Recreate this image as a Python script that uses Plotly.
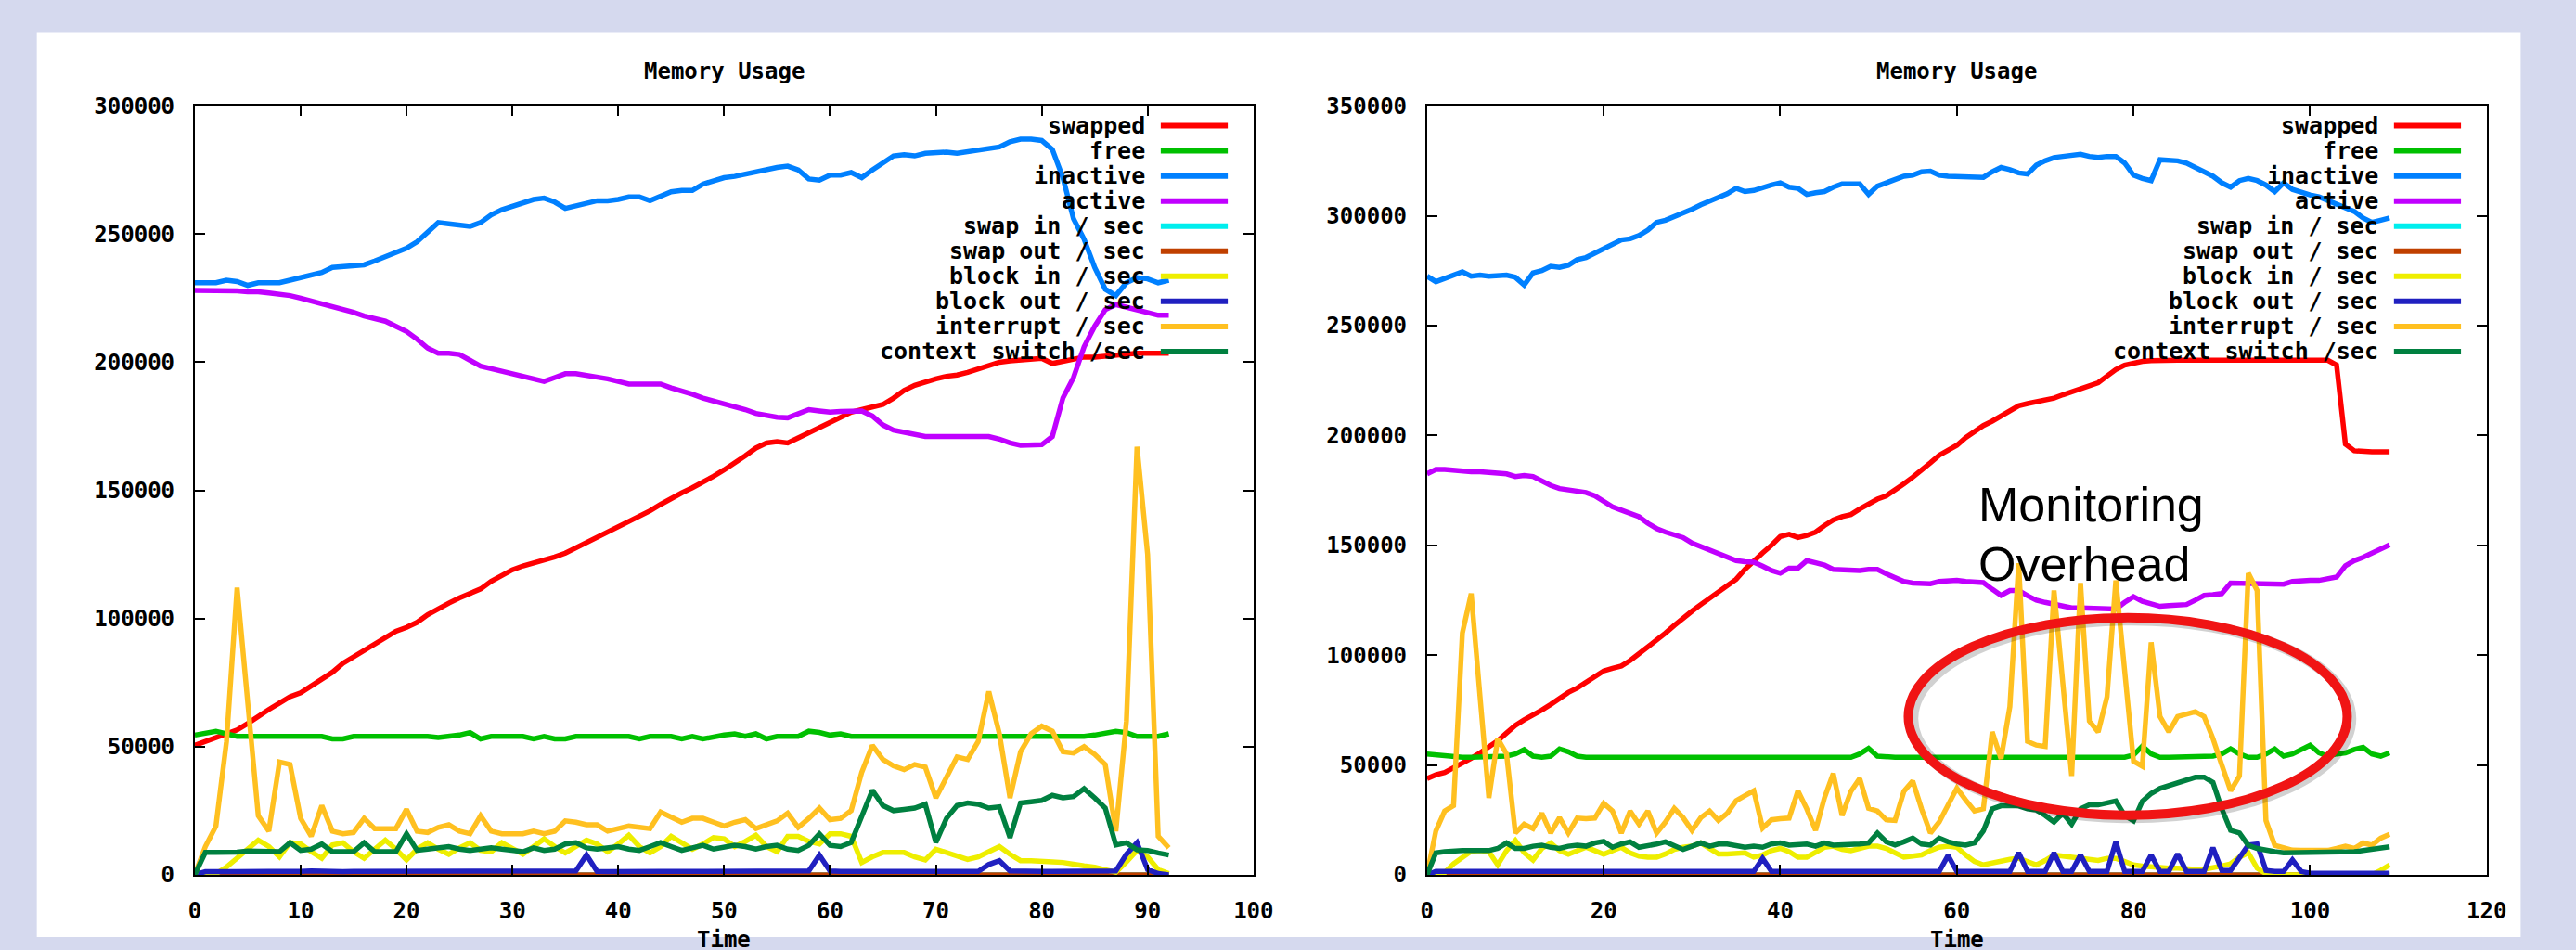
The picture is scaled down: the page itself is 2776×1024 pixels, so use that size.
import plotly.graph_objects as go

W, H = 2776, 1024

# ---------------- data ----------------
series_names = ["swapped", "free", "inactive", "active", "swap in / sec", "swap out / sec",
                "block in / sec", "block out / sec", "interrupt / sec", "context switch /sec"]
series_colors = ["#ff0000", "#00c000", "#0080ff", "#c000ff", "#00eeee", "#c04000",
                 "#eeee00", "#2020c0", "#ffc020", "#008040"]

left_time = list(range(93))
right_time = list(range(110))

left_x_ticks = [0, 10, 20, 30, 40, 50, 60, 70, 80, 90, 100]
left_y_ticks = [0, 50000, 100000, 150000, 200000, 250000, 300000]
right_x_ticks = [0, 20, 40, 60, 80, 100, 120]
right_y_ticks = [0, 50000, 100000, 150000, 200000, 250000, 300000, 350000]

L_swapped = [50500, 52000, 53000, 54500, 56500, 59000, 62000, 64500, 67000, 69500,
             71000, 73500, 76000, 79000, 82500, 85000, 87500, 90500, 93000, 95000,
             96500, 98500, 101500, 104000, 106000, 108000, 109500, 111500, 114500, 117000,
             119000, 120500, 121500, 122500, 124000, 125500, 127500, 130000, 132000, 133500,
             135500, 137500, 139500, 142000, 144500, 147000, 149000, 151000, 153000, 155500,
             158000, 160500, 163500, 166500, 168500, 169000, 168500, 170500, 172500, 174500,
             176500, 178500, 180500, 181500, 182500, 183500, 186000, 189000, 191000, 192500,
             193500, 194500, 195000, 196000, 197500, 199000, 200000, 200500, 201000, 201500,
             201500, 199500, 200500, 201500, 202000, 202000, 202500, 203000, 203000, 203500,
             203500, 203500, 203500]
L_free = [54500, 55500, 56000, 55000, 54000, 54000, 54000, 54000, 54000, 54000,
          54000, 54000, 54000, 53000, 53000, 54000, 54000, 54000, 54000, 54000,
          54000, 54000, 54000, 53500, 54000, 54500, 55500, 53000, 54000, 54000,
          54000, 54000, 53000, 54000, 53000, 53000, 54000, 54000, 54000, 54000,
          54000, 54000, 53000, 54000, 54000, 54000, 53000, 54000, 53000, 54000,
          54500, 55000, 54000, 55000, 53000, 54000, 54000, 54000, 56000, 55500,
          54500, 55000, 54000, 54000, 54000, 54000, 54000, 54000, 54000, 54000,
          54000, 54000, 54000, 54000, 54000, 54000, 54000, 54000, 54000, 54000,
          54000, 54000, 54000, 54000, 54000, 54500, 55500, 56000, 55500, 54000,
          54000, 54000, 55000]
L_inactive = [231000, 231000, 231000, 232000, 231500, 230000, 231000, 231000, 231000, 232000,
              233000, 234000, 235000, 237000, 237500, 238000, 238000, 239500, 241000, 242500,
              244500, 247000, 251000, 254500, 254000, 253500, 253000, 254500, 257500, 259500,
              261000, 262500, 263500, 264000, 262500, 260000, 261000, 262500, 263000, 263000,
              263500, 264500, 264500, 263000, 265000, 266500, 267000, 267000, 269500, 271000,
              272000, 272500, 273500, 274500, 275500, 276000, 276500, 275000, 271500, 271000,
              273000, 273000, 274000, 272000, 275000, 278000, 280500, 281000, 280500, 281500,
              282000, 282000, 281500, 282000, 282500, 283000, 284000, 286000, 287000, 287000,
              286500, 283000, 272000, 256000, 248000, 237000, 228500, 226000, 231000, 233000,
              232500, 231000, 232000]
L_active = [228000, 228000, 228000, 228000, 227800, 227500, 227500, 227000, 226500, 226000,
            225000, 224000, 223000, 221500, 220500, 219500, 218000, 217000, 216000, 214000,
            212000, 209000, 205500, 203500, 203500, 203000, 200500, 198500, 197500, 196500,
            195500, 194500, 193500, 192500, 194000, 195500, 195500, 195000, 194000, 193500,
            192500, 191500, 191500, 191500, 191500, 190000, 189000, 187500, 186000, 185000,
            183500, 182500, 181500, 180000, 179000, 178500, 178300, 180000, 181500, 181000,
            180500, 180800, 181000, 181000, 179000, 175500, 173500, 172500, 171500, 171000,
            171000, 171000, 171000, 171000, 171000, 171000, 170000, 168500, 167600, 167600,
            167800, 171000, 186000, 194000, 206000, 214000, 220500, 222500, 221500, 220500,
            219000, 218300, 218300]
L_swapin = [0, 0, 0, 0, 0, 0, 0, 0, 0, 0, 0, 0, 0, 0, 0, 0, 0, 0, 0, 0,
            0, 0, 0, 0, 0, 0, 0, 0, 0, 0, 0, 0, 0, 0, 0, 0, 0, 0, 0, 0,
            0, 0, 0, 0, 0, 0, 0, 0, 0, 0, 0, 0, 0, 0, 0, 0, 0, 0, 0, 0,
            0, 0, 0, 0, 0, 0, 0, 0, 0, 0, 0, 0, 0, 0, 0, 0, 0, 0, 0, 0,
            0, 0, 0, 0, 0, 0, 0, 0, 0, 0, 0, 0, 0]
L_swapout = [0, 0, 0, 0, 0, 0, 0, 0, 0, 0, 0, 0, 0, 0, 0, 0, 0, 0, 0, 0,
             0, 0, 0, 0, 0, 0, 0, 0, 0, 0, 0, 0, 0, 0, 0, 0, 0, 0, 0, 0,
             0, 0, 0, 0, 0, 0, 0, 0, 0, 0, 0, 0, 0, 0, 0, 0, 0, 0, 0, 0,
             0, 0, 0, 0, 0, 0, 0, 0, 0, 0, 0, 0, 0, 0, 0, 0, 0, 0, 0, 0,
             0, 0, 0, 0, 0, 0, 0, 0, 0, 0, 0, 0, 0]
L_blockin = [0, 0, 400, 3000, 6500, 9700, 13500, 11000, 7000, 12600,
             12000, 9000, 6400, 11600, 12500, 9000, 6400, 10000, 13500, 10000,
             5800, 10000, 12500, 10000, 8000, 10500, 12500, 9500, 9000, 12500,
             10000, 8000, 11000, 14000, 11000, 8500, 11000, 13500, 12000, 9000,
             12000, 15400, 11000, 8500, 11000, 15000, 12500, 10000, 12000, 14500,
             14000, 11000, 13000, 15400, 11000, 9000, 15000, 15000, 13000, 12000,
             16000, 16000, 15000, 4800, 7000, 8700, 8700, 8700, 7000, 5800,
             10000, 8500, 7500, 6000, 7000, 9000, 11000, 8000, 5500, 5500,
             5000, 5000, 4800, 4000, 3500, 3000, 2000, 1000, 5000, 9500,
             7000, 2000, 500]
L_blockout = [0, 1200, 1200, 1300, 1300, 1200, 1200, 1300, 1300, 1200,
              1300, 1500, 1300, 1300, 1200, 1300, 1300, 1500, 1300, 1200,
              1300, 1300, 1500, 1300, 1300, 1300, 1500, 1300, 1200, 1300,
              1300, 1300, 1300, 1300, 1300, 1300, 1500, 7700, 1300, 1200,
              1300, 1300, 1500, 1300, 1300, 1300, 1300, 1300, 1300, 1300,
              1300, 1300, 1300, 1300, 1300, 1300, 1300, 1300, 1500, 7700,
              1500, 1300, 1500, 1300, 1300, 1500, 1300, 1300, 1300, 1300,
              1300, 1300, 1300, 1300, 1300, 4000, 5500, 1500, 1300, 1300,
              1300, 1300, 1300, 1300, 1300, 1300, 1300, 1500, 8000, 12500,
              2000, 500, 0]
L_interrupt = [0, 11000, 19000, 52000, 112000, 68000, 23000, 17000, 44000, 43000,
               22000, 15000, 27000, 17000, 16000, 16500, 22000, 18000, 18000, 18000,
               25500, 17000, 16500, 18500, 19500, 17000, 16000, 23000, 17000, 16000,
               16000, 16000, 17000, 16000, 17000, 21000, 20500, 19500, 19500, 17000,
               18000, 19000, 18500, 18000, 24500, 22500, 20500, 22000, 22000, 20500,
               19000, 20500, 21500, 18000, 19500, 21000, 24000, 18500, 22000, 26000,
               21500, 22000, 25000, 40000, 50500, 45000, 42500, 41000, 43000, 42000,
               30000, 38000, 46000, 45000, 52000, 71500, 55000, 30000, 48000, 55000,
               58000, 56000, 48000, 47500, 50000, 47000, 43000, 17000, 60000, 167000,
               125000, 15000, 10500]
L_context = [0, 8700, 8700, 8700, 8800, 9300, 9300, 9000, 9000, 12500,
             9500, 10000, 12000, 9000, 9000, 9000, 12500, 9000, 9000, 9000,
             16000, 9500, 10000, 10500, 11000, 10000, 9500, 10000, 10500, 10000,
             9500, 9000, 10500, 9500, 10000, 12000, 12500, 10500, 10000, 10500,
             11000, 10000, 9500, 11000, 12600, 11000, 9500, 10500, 11500, 10000,
             10600, 11500, 11000, 10000, 11000, 11500, 10000, 9500, 11500, 16000,
             11500, 11000, 12600, 23000, 33000, 27000, 25000, 25500, 26000, 27500,
             12600, 22000, 27000, 28000, 27500, 26000, 26500, 14500, 28000, 28500,
             29000, 31000, 30000, 30500, 33600, 30000, 26000, 11600, 12500, 9700,
             9500, 8500, 7700]

R_swapped = [43800, 45500, 46500, 48500, 50600, 53000, 55500, 58000, 61000, 64500,
             68000, 70500, 72500, 75000, 77500, 80500, 83000, 85000, 87500, 90500,
             92800, 94000, 95000, 97500, 100500, 104000, 107000, 110000, 113500, 117000,
             120000, 123000, 126000, 129000, 131500, 134500, 139000, 143000, 146500, 150000,
             154000, 155000, 153500, 154500, 156000, 159000, 161500, 163000, 164000, 166500,
             169000, 171000, 172500, 175000, 178000, 181000, 184000, 187500, 191000, 193000,
             195500, 199000, 202000, 204500, 206500, 209000, 211500, 213500, 214500, 215200,
             216000, 217000, 218500, 220000, 221500, 222500, 224000, 227000, 230000, 232000,
             233000, 233700, 234000, 234200, 234200, 234200, 234200, 234200, 234200, 234200,
             234200, 234200, 234200, 234200, 234200, 234200, 234200, 234200, 234200, 234200,
             234200, 234200, 234200, 232000, 196000, 193000, 192500, 192500, 192500, 192500]
R_free = [55000, 54500, 54000, 54000, 53500, 53500, 53500, 53500, 53500, 54000,
          55000, 57000, 54000, 53500, 54000, 57300, 56000, 54000, 53500, 53500,
          53500, 53500, 53500, 53500, 54000, 53500, 53500, 53500, 53500, 53500,
          53500, 54000, 53500, 53500, 53500, 53500, 53500, 53500, 53500, 53500,
          54000, 53500, 53500, 53500, 53500, 54000, 53500, 53500, 53500, 55000,
          57500, 54000, 53500, 53500, 53500, 53500, 53500, 53500, 53500, 53500,
          54000, 53500, 53500, 53500, 53500, 54000, 53500, 53500, 53500, 53500,
          54000, 53500, 53500, 53500, 53500, 53500, 54000, 53500, 53500, 53500,
          54500, 58500, 55000, 53500, 53500, 53500, 54000, 54000, 54000, 54000,
          55000, 57300, 55000, 53500, 53500, 55000, 57300, 54000, 55000, 57000,
          59000, 55500, 54000, 55000, 55500, 57000, 58000, 55000, 54000, 55500]
R_inactive = [272500, 270000, 271500, 273000, 274500, 272500, 273000, 272500, 273000, 273000,
              272000, 268500, 274000, 275000, 277000, 276500, 277500, 280000, 281000, 283000,
              284500, 287000, 289000, 289500, 291000, 293500, 297000, 298000, 299500, 301000,
              303000, 305000, 306500, 308000, 310000, 312500, 311000, 311500, 313000, 314000,
              315000, 313000, 312500, 309700, 310500, 311000, 313000, 314500, 314500, 314500,
              309700, 313500, 315000, 316500, 318000, 318500, 320000, 320300, 318500, 318000,
              318000, 318000, 318000, 317500, 320000, 322000, 321000, 319500, 319000, 323000,
              325000, 326500, 327000, 327500, 328000, 327000, 326500, 327000, 327000, 324000,
              318500, 317000, 316000, 325500, 325500, 325000, 324000, 322000, 320500, 318000,
              315000, 313000, 316000, 317000, 316000, 314000, 311000, 315000, 312000, 310500,
              309500, 308600, 307000, 305500, 304000, 302000, 299000, 297000, 298000, 299000]
R_active = [182500, 184500, 184500, 184000, 183500, 183500, 183500, 183000, 182800, 182500,
            181300, 181800, 181300, 179000, 177200, 175800, 175200, 175000, 174000, 172500,
            170000, 167500, 166000, 164300, 163000, 160000, 157600, 156000, 155000, 153500,
            151000, 149500, 148000, 146300, 144500, 143000, 142500, 142300, 140500, 138500,
            137300, 139500, 139500, 143000, 142000, 141000, 139000, 138900, 138500, 138500,
            139000, 139000, 137000, 135000, 133500, 132800, 132500, 132500, 133500, 134000,
            134000, 133500, 133000, 133000, 130000, 127200, 129400, 129400, 127000, 125000,
            124000, 123000, 122000, 121500, 121500, 121500, 121500, 121500, 121000, 124000,
            126600, 124500, 123500, 122200, 122500, 122800, 123000, 125000, 127200, 127500,
            128000, 132800, 132800, 132800, 132800, 132500, 132500, 132300, 133500, 134000,
            134000, 134000, 134500, 135500, 140700, 143000, 144500, 146300, 148000, 150200]
R_swapin = [0, 0, 0, 0, 0, 0, 0, 0, 0, 0, 0, 0, 0, 0, 0, 0, 0, 0, 0, 0,
            0, 0, 0, 0, 0, 0, 0, 0, 0, 0, 0, 0, 0, 0, 0, 0, 0, 0, 0, 0,
            0, 0, 0, 0, 0, 0, 0, 0, 0, 0, 0, 0, 0, 0, 0, 0, 0, 0, 0, 0,
            0, 0, 0, 0, 0, 0, 0, 0, 0, 0, 0, 0, 0, 0, 0, 0, 0, 0, 0, 0,
            0, 0, 0, 0, 0, 0, 0, 0, 0, 0, 0, 0, 0, 0, 0, 0, 0, 0, 0, 0,
            0, 0, 0, 0, 0, 0, 0, 0, 0, 0]
R_swapout = [0, 0, 0, 0, 0, 0, 0, 0, 0, 0, 0, 0, 0, 0, 0, 0, 0, 0, 0, 0,
             0, 0, 0, 0, 0, 0, 0, 0, 0, 0, 0, 0, 0, 0, 0, 0, 0, 0, 0, 0,
             0, 0, 0, 0, 0, 0, 0, 0, 0, 0, 0, 0, 0, 0, 0, 0, 0, 0, 0, 0,
             0, 0, 0, 0, 0, 0, 0, 0, 0, 0, 0, 0, 0, 0, 0, 0, 0, 0, 0, 0,
             0, 0, 0, 0, 0, 0, 0, 0, 0, 0, 0, 0, 0, 0, 0, 0, 0, 0, 0, 0,
             0, 0, 0, 0, 0, 0, 0, 0, 0, 0]
R_blockin = [0, 500, 1000, 5000, 8000, 10700, 11000, 10500, 4500, 11000,
             15600, 10000, 6700, 12000, 14500, 11000, 9300, 11000, 12500, 11000,
             9300, 11000, 12500, 10000, 8500, 8000, 8000, 9500, 11500, 12500,
             13000, 14500, 12000, 9500, 9500, 9500, 10000, 8000, 9000, 11000,
             12000, 10500, 8000, 8000, 10500, 12500, 13000, 11500, 11000, 12000,
             13000, 13000, 12000, 10000, 8000, 8500, 9000, 11000, 12500, 13000,
             12500, 9000, 6000, 4500, 5500, 6500, 7000, 7500, 6000, 4500,
             6500, 9000, 8500, 8000, 7500, 7000, 6500, 7500, 7500, 6000,
             4500, 4000, 3500, 3500, 3000, 3000, 2500, 2500, 2500, 3000,
             4000, 5000, 8000, 10000, 3000, 500, 0, 0, 0, 0,
             0, 0, 0, 0, 0, 0, 0, 0, 2000, 4500]
R_blockout = [0, 1500, 1500, 1500, 1500, 1500, 1500, 1500, 1500, 1500,
              1500, 1800, 1500, 1500, 1500, 1500, 1800, 1500, 1500, 1500,
              1500, 1500, 1800, 1500, 1500, 1500, 1500, 1800, 1500, 1500,
              1500, 1500, 1500, 1500, 1500, 1500, 1500, 1500, 7500, 1500,
              1500, 1500, 1500, 1500, 1500, 1500, 1500, 1500, 1500, 1500,
              1500, 1500, 1500, 1500, 1500, 1500, 1500, 1500, 1500, 8800,
              1500, 1500, 1500, 1500, 1500, 1500, 1500, 10000, 1500, 1500,
              1500, 10000, 1500, 1500, 9000, 1500, 1500, 1500, 15000, 1500,
              1500, 1500, 9000, 1500, 1500, 9500, 1500, 1500, 1500, 12300,
              2000, 2000, 8000, 13500, 14000, 2000, 1500, 1500, 6800, 1500,
              700, 700, 700, 700, 700, 700, 700, 700, 700, 700]
R_interrupt = [0, 20000, 29000, 31500, 110000, 128000, 81000, 35000, 62000, 55000,
               19000, 23000, 21000, 28000, 19000, 26000, 19000, 25800, 25500, 25800,
               32500, 29000, 19000, 29000, 23000, 29000, 19000, 24000, 30200, 26000,
               20200, 26000, 29000, 24700, 28000, 33700, 36000, 38200, 21300, 25000,
               25500, 25800, 38200, 30000, 20200, 35000, 46100, 27000, 38000, 43800,
               30200, 29000, 25000, 24700, 38000, 42700, 30000, 19000, 24000, 31400,
               39400, 34000, 29000, 30000, 65000, 52800, 76500, 141800, 60700, 59000,
               58400, 129400, 85000, 45000, 132800, 70000, 65000, 81000, 134000, 95000,
               51700, 49400, 105800, 72000, 65000, 72000, 73000, 74200, 72000, 62000,
               50000, 38200, 45000, 137300, 129400, 24700, 13400, 12000, 11200, 11100,
               11100, 11100, 11100, 12000, 13000, 12000, 14500, 13500, 16700, 18400]
R_context = [0, 10000, 10500, 11000, 11000, 11000, 11000, 11000, 12000, 14500,
             12000, 12000, 13000, 13500, 12500, 12000, 13000, 13500, 13000, 14500,
             15200, 12500, 14000, 15000, 12500, 13000, 14000, 15000, 13000, 11500,
             13000, 14500, 13000, 14000, 14000, 13000, 12500, 13000, 12500, 14000,
             14500, 13500, 13500, 14000, 13000, 14500, 13500, 13500, 13500, 14000,
             14500, 19000, 15000, 13500, 15000, 16700, 14000, 13500, 16700, 15000,
             14000, 13500, 14500, 20000, 30000, 31400, 31400, 31400, 30000, 29500,
             27000, 24000, 28000, 23000, 30000, 31800, 31800, 32500, 33600, 27000,
             24500, 33500, 37000, 39300, 40500, 41500, 43000, 44400, 44400, 42000,
             30000, 20200, 19000, 13400, 12000, 11000, 10500, 10000, 10000, 10000,
             10000, 10000, 10000, 10000, 10500, 10500, 11000, 11500, 12000, 12700]

left_series = [L_swapped, L_free, L_inactive, L_active, L_swapin, L_swapout,
               L_blockin, L_blockout, L_interrupt, L_context]
right_series = [R_swapped, R_free, R_inactive, R_active, R_swapin, R_swapout,
                R_blockin, R_blockout, R_interrupt, R_context]

chart_title = "Memory Usage"
x_title = "Time"
note_lines = ["Monitoring", "Overhead"]

# ---------------- styling ----------------
MONO = dict(family="DejaVu Sans Mono", size=25, color="black", weight="bold")
TITLEF = dict(family="DejaVu Sans Mono", size=24, color="black", weight="bold")
TICKF = dict(family="DejaVu Sans Mono", size=24, color="black", weight="bold")
LINE_W = 5.5
BG = "#d5d9ee"

# plot boxes in pixels (left, right, top, bottom)
P1 = (205, 1358, 103, 955)
P2 = (1547, 2701, 103, 955)


def fx(p):
    return p / W


def fy(p):
    return 1 - p / H


fig = go.Figure()

for name, col, ys in zip(series_names, series_colors, left_series):
    fig.add_trace(go.Scatter(x=left_time, y=ys, mode="lines", name=name,
                             line=dict(color=col, width=LINE_W),
                             xaxis="x", yaxis="y", showlegend=False, hoverinfo="skip"))
for name, col, ys in zip(series_names, series_colors, right_series):
    fig.add_trace(go.Scatter(x=right_time, y=ys, mode="lines", name=name,
                             line=dict(color=col, width=LINE_W),
                             xaxis="x2", yaxis="y2", showlegend=False, hoverinfo="skip"))

axis_common = dict(showgrid=False, zeroline=False, showline=True, linecolor="black",
                   linewidth=2, mirror="ticks", ticks="inside", ticklen=11, tickwidth=2,
                   tickcolor="black", tickfont=TICKF, tickformat="d")

fig.update_layout(
    width=W, height=H, autosize=False,
    margin=dict(l=0, r=0, t=0, b=0),
    paper_bgcolor=BG, plot_bgcolor="white",
    showlegend=False,
    xaxis=dict(domain=[fx(P1[0]), fx(P1[1])], range=[0, 100], tickvals=left_x_ticks,
               anchor="y", ticklabelstandoff=16, **axis_common),
    yaxis=dict(domain=[fy(P1[3]), fy(P1[2])], range=[0, 300000], tickvals=left_y_ticks,
               anchor="x", ticklabelstandoff=15, **axis_common),
    xaxis2=dict(domain=[fx(P2[0]), fx(P2[1])], range=[0, 120], tickvals=right_x_ticks,
                anchor="y2", ticklabelstandoff=16, **axis_common),
    yaxis2=dict(domain=[fy(P2[3]), fy(P2[2])], range=[0, 350000], tickvals=right_y_ticks,
                anchor="x2", ticklabelstandoff=15, **axis_common),
)

shapes = [dict(type="rect", xref="paper", yref="paper", x0=fx(33), x1=fx(2738),
               y0=0, y1=fy(22), fillcolor="white", line=dict(width=0), layer="below")]
annotations = []

for (pl, pr, pt, pb) in (P1, P2):
    cx = (pl + pr) / 2
    annotations.append(dict(text=chart_title, x=fx(cx), y=fy(65), xref="paper", yref="paper",
                            xanchor="center", yanchor="middle", showarrow=False, font=TITLEF))
    # axis title: the original picture is cropped right through it at the bottom edge
    annotations.append(dict(text=x_title, x=fx(cx), y=fy(1012), xref="paper", yref="paper",
                            xanchor="center", yanchor="top", showarrow=False, font=TITLEF,
                            borderpad=0))
    # key, gnuplot style: right aligned text, sample line on the right
    text_end = pr - 116
    l0, l1 = pr - 101, pr - 28
    for i, (name, col) in enumerate(zip(series_names, series_colors)):
        yp = 125 + i * 27.8
        annotations.append(dict(text=name, x=fx(text_end), y=fy(yp), xref="paper", yref="paper",
                                xanchor="right", yanchor="middle", showarrow=False, font=MONO))
        shapes.append(dict(type="line", xref="paper", yref="paper", x0=fx(l0), x1=fx(l1),
                           y0=fy(yp), y1=fy(yp), line=dict(color=col, width=6)))

# callout on the right chart
shapes.append(dict(type="circle", xref="x2", yref="y2", x0=55.0, x1=104.6, y0=26000, y1=116000,
                   line=dict(color="rgba(0,0,0,0.18)", width=12)))
shapes.append(dict(type="circle", xref="x2", yref="y2", x0=54.5, x1=104.2, y0=27100, y1=117000,
                   line=dict(color="#f01414", width=10)))
for txt, cy in zip(note_lines, (545, 611)):
    annotations.append(dict(text=txt, x=fx(2145), y=fy(cy), xref="paper", yref="paper",
                            xanchor="left", yanchor="middle", showarrow=False,
                            font=dict(family="Liberation Sans, Arial", size=52, color="black")))

fig.update_layout(shapes=shapes, annotations=annotations)
fig.write_html("out.html", config={"displayModeBar": False},
               post_script="document.body.style.margin='0';document.body.style.overflow='hidden';")
